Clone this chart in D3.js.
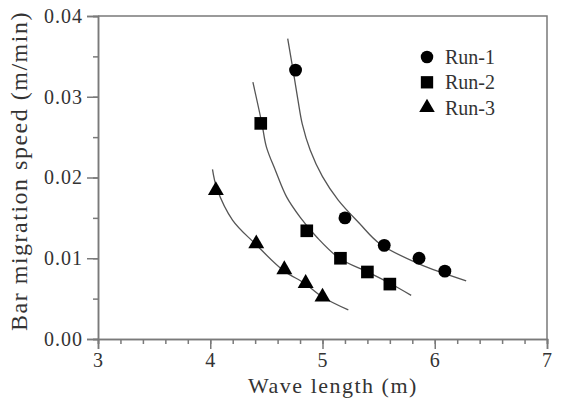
<!DOCTYPE html>
<html>
<head>
<meta charset="utf-8">
<script src="https://cdn.jsdelivr.net/npm/d3@7"></script>
<style>
  body { margin: 0; background: #fff; }
  svg { display: block; }
</style>
</head>
<body>
<svg id="chart"></svg>
<script>
// measured points
const run1X = [4.76, 5.20, 5.55, 5.86, 6.09]
const run1Y = [0.0333, 0.0150, 0.0116, 0.0100, 0.0084]
const run2X = [4.45, 4.86, 5.16, 5.40, 5.60]
const run2Y = [0.0267, 0.0134, 0.0100, 0.0083, 0.0068]
const run3X = [4.05, 4.41, 4.66, 4.85, 5.00]
const run3Y = [0.0184, 0.0118, 0.0086, 0.0069, 0.0052]

// fitted curves
const fit1X = [4.69, 4.74, 4.78, 4.82, 4.89, 5.00, 5.14, 5.33, 5.51, 5.86, 6.28]
const fit1Y = [0.0372, 0.0331, 0.0297, 0.0266, 0.0234, 0.0201, 0.0172, 0.0143, 0.0118, 0.0093, 0.0072]
const fit2X = [4.38, 4.46, 4.50, 4.58, 4.68, 4.80, 4.95, 5.15, 5.40, 5.60, 5.79]
const fit2Y = [0.0318, 0.0267, 0.0238, 0.0209, 0.0176, 0.0151, 0.0126, 0.0100, 0.0083, 0.0069, 0.0054]
const fit3X = [4.02, 4.06, 4.20, 4.40, 4.65, 4.84, 5.00, 5.23]
const fit3Y = [0.0210, 0.0186, 0.0147, 0.0118, 0.0085, 0.0069, 0.0052, 0.0036]

const seriesNames = ['Run-1', 'Run-2', 'Run-3']
const xTicks = [3, 4, 5, 6, 7]
const yTicks = [0, 0.01, 0.02, 0.03, 0.04]

let width = 562
let height = 399
let margin = {left: 98, right: 15, top: 16, bottom: 60}

let svg = d3.select('#chart')
  .attr('width', width)
  .attr('height', height)

let x = d3.scaleLinear().domain([3, 7]).range([margin.left, width - margin.right])
let y = d3.scaleLinear().domain([0, 0.04]).range([height - margin.bottom, margin.top])

let axisColor = '#7a7a7a'
let textColor = '#333'
let font = '"Liberation Serif", "Times New Roman", serif'

// minor ticks
svg.append('g')
  .attr('transform', `translate(0, ${y(0)})`)
  .call(d3.axisBottom(x).tickValues(d3.range(3, 7.01, 0.2)).tickSize(5).tickFormat(''))
svg.append('g')
  .attr('transform', `translate(${x(3)}, 0)`)
  .call(d3.axisLeft(y).tickValues(d3.range(0, 0.0401, 0.005)).tickSize(5).tickFormat(''))

// major ticks
svg.append('g')
  .attr('transform', `translate(0, ${y(0)})`)
  .call(d3.axisBottom(x).tickValues(xTicks).tickSize(10).tickPadding(4).tickFormat(d3.format('d')))
svg.append('g')
  .attr('transform', `translate(${x(3)}, 0)`)
  .call(d3.axisLeft(y).tickValues(yTicks).tickSize(11).tickPadding(4).tickFormat(d3.format('.2f')))

svg.selectAll('.domain, .tick line')
  .attr('stroke', axisColor)
  .attr('stroke-width', 1.5)

svg.selectAll('.tick text')
  .attr('fill', textColor)
  .style('font-family', font)
  .style('font-size', '20px')
  .style('letter-spacing', '1px')

// box
svg.append('path')
  .attr('d', `M${x(3)},${y(0.04)}H${x(7)}V${y(0)}`)
  .attr('fill', 'none')
  .attr('stroke', axisColor)
  .attr('stroke-width', 1.5)

// axis titles
svg.append('text')
  .attr('x', 333)
  .attr('y', 393)
  .attr('text-anchor', 'middle')
  .attr('fill', textColor)
  .style('font-family', font)
  .style('font-size', '22px')
  .style('letter-spacing', '1.5px')
  .text('Wave length (m)')

svg.append('text')
  .attr('transform', 'translate(27, 171) rotate(-90)')
  .attr('text-anchor', 'middle')
  .attr('fill', textColor)
  .style('font-family', font)
  .style('font-size', '24px')
  .style('letter-spacing', '1.5px')
  .text('Bar migration speed (m/min)')

// curves
let line = d3.line()
  .x(d => x(d[0]))
  .y(d => y(d[1]))
  .curve(d3.curveCatmullRom.alpha(0.5))

let fits = [d3.zip(fit1X, fit1Y), d3.zip(fit2X, fit2Y), d3.zip(fit3X, fit3Y)]
svg.selectAll('.fit')
  .data(fits)
  .enter()
  .append('path')
  .attr('class', 'fit')
  .attr('d', line)
  .attr('fill', 'none')
  .attr('stroke', '#555')
  .attr('stroke-width', 1.3)

// markers
let shapes = [d3.symbolCircle, d3.symbolSquare, d3.symbolTriangle]
let sizes = [130, 160, 110]
let points = [d3.zip(run1X, run1Y), d3.zip(run2X, run2Y), d3.zip(run3X, run3Y)]

points.forEach((pts, i) => {
  svg.selectAll('.pt' + i)
    .data(pts)
    .enter()
    .append('path')
    .attr('d', d3.symbol().type(shapes[i]).size(sizes[i]))
    .attr('transform', d => `translate(${x(d[0])}, ${y(d[1])})`)
    .attr('fill', '#000')
})

// legend
let legend = svg.append('g').attr('transform', 'translate(427, 57)')
seriesNames.forEach((name, i) => {
  let g = legend.append('g').attr('transform', `translate(0, ${i * 25.3})`)
  g.append('path')
    .attr('d', d3.symbol().type(shapes[i]).size(sizes[i] * 0.95))
    .attr('fill', '#000')
  g.append('text')
    .attr('x', 18)
    .attr('y', 7)
    .attr('fill', textColor)
    .style('font-family', font)
    .style('font-size', '20px')
    .text(name)
})
</script>
</body>
</html>
